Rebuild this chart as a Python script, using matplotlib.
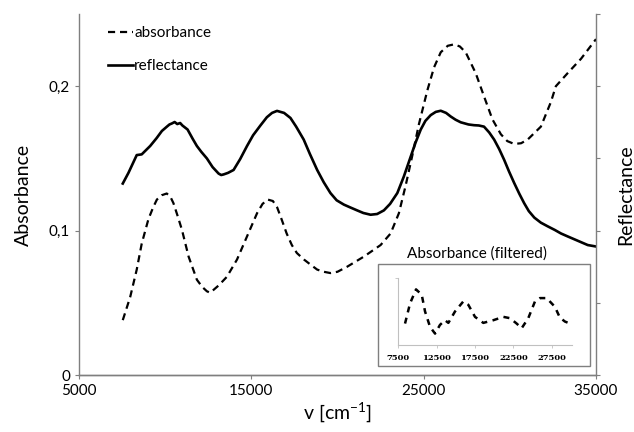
import matplotlib
matplotlib.use('Agg')
import matplotlib.pyplot as plt
from matplotlib.patches import Rectangle
from matplotlib.ticker import FuncFormatter

plt.rcParams['font.family'] = ['Lato', 'DejaVu Sans']

# Absorbance (dashed) - wavenumber in cm-1
abs_x = [7540, 7970, 8350, 8640, 9030, 9300, 9520, 9800, 10090, 10300, 10480, 10700,
         10970, 11360, 11840, 12150, 12420, 12600, 12810, 13100, 13580, 14170, 14750,
         15330, 15650, 15950, 16250, 16500, 16750, 17050, 17350, 17640, 18050, 18430,
         18820, 19200, 19590, 20000, 20560, 21530, 22500, 23080, 23560, 23950, 24340,
         24730, 25210, 25600, 25990, 26400, 26770, 27100, 27440, 28020, 28500, 28990,
         29480, 29850, 30250, 30650, 31030, 31800, 32380, 32670, 33350, 34130, 35000]
abs_y = [0.038, 0.054, 0.073, 0.091, 0.108, 0.116, 0.1215, 0.1245, 0.1257, 0.1235, 0.119, 0.111,
         0.1007, 0.082, 0.066, 0.061, 0.058, 0.057, 0.059, 0.062, 0.068, 0.080, 0.096,
         0.112, 0.1185, 0.1215, 0.1205, 0.116, 0.108, 0.098, 0.090, 0.0845, 0.080, 0.0765,
         0.073, 0.0715, 0.0706, 0.0715, 0.075, 0.082, 0.090, 0.098, 0.112, 0.131, 0.152,
         0.174, 0.197, 0.213, 0.2235, 0.228, 0.229, 0.2275, 0.2234, 0.209, 0.193, 0.177,
         0.1667, 0.162, 0.160, 0.1605, 0.163, 0.172, 0.189, 0.200, 0.209, 0.219, 0.2326]

# Reflectance (solid), noisy parts kept as read
refl_x = [7540, 7870, 8350, 8640, 9130, 9500, 9810, 10100, 10250, 10390, 10550,
          10700, 10870, 11000, 11300, 11600, 11840, 12100, 12420, 12750, 13100, 13250,
          13390, 13650, 13970, 14350, 14750, 15100, 15520, 15900, 16200, 16490, 16900,
          17270, 17600, 18040, 18400, 18820, 19200, 19590, 19950, 20370, 20750, 21140,
          21500, 21920, 22300, 22690, 23050, 23470, 23850, 24240, 24530, 24830, 25100,
          25410, 25700, 25990, 26300, 26570, 26850, 27150, 27600, 27920, 28200, 28500,
          28800, 29090, 29380, 29670, 29950, 30250, 30550, 30830, 31100, 31420, 31800,
          32190, 32600, 32970, 33350, 33740, 34130, 34520, 35000]
refl_y = [0.1326, 0.140, 0.1523, 0.1528, 0.1586, 0.1640, 0.1690, 0.1720, 0.1735, 0.1742, 0.1752,
          0.1738, 0.1745, 0.1728, 0.1700, 0.1635, 0.1586, 0.1545, 0.1500, 0.1440, 0.1395, 0.1385,
          0.1389, 0.1400, 0.1420, 0.1495, 0.1586, 0.1660, 0.1727, 0.1785, 0.1815, 0.1829, 0.1815,
          0.1780, 0.1720, 0.1630, 0.1530, 0.1420, 0.1335, 0.1260, 0.1210, 0.1180, 0.1160, 0.1140,
          0.1122, 0.1110, 0.1115, 0.1140, 0.1185, 0.1260, 0.1375, 0.1510, 0.1610, 0.1700, 0.1760,
          0.1800, 0.1822, 0.1830, 0.1815, 0.1790, 0.1768, 0.1750, 0.1735, 0.1730, 0.1728, 0.1720,
          0.1680, 0.1630, 0.1565, 0.1490, 0.1410, 0.1330, 0.1255, 0.1190, 0.1135, 0.1090, 0.1055,
          0.1030, 0.1005, 0.0980, 0.0960, 0.0940, 0.0920, 0.0900, 0.0890]

# Inset: filtered absorbance (arbitrary units)
filt_x = [8410, 9060, 9840, 10580, 11010, 11660, 12310, 12950, 13600, 14040, 14900,
          15980, 16630, 17500, 18580, 19880, 21180, 22050, 22910, 23560, 24420,
          25290, 25940, 26810, 27880, 28520, 29180, 30050]
filt_y = [0.32, 0.62, 0.83, 0.75, 0.50, 0.27, 0.17, 0.30, 0.37, 0.33, 0.50,
          0.65, 0.60, 0.42, 0.33, 0.37, 0.42, 0.40, 0.32, 0.25, 0.40,
          0.65, 0.70, 0.70, 0.57, 0.41, 0.35, 0.31]

x_ticks = [5000, 15000, 25000, 35000]
y_ticks = [0, 0.1, 0.2]
inset_ticks = [7500, 12500, 17500, 22500, 27500]

grey = '#7f7f7f'

fig = plt.figure(figsize=(6.34, 4.32), dpi=100)
ax = fig.add_axes([0.1246, 0.1319, 0.8155, 0.8357])

l1, = ax.plot(abs_x, abs_y, color='black', lw=1.6, dashes=(3.2, 2.2), label='absorbance')
ax2 = ax.twinx()
l2, = ax2.plot(refl_x, refl_y, color='black', lw=1.9, label='reflectance')

ax.set_xlim(5000, 35000)
ax.set_ylim(0, 0.25)
ax2.set_ylim(0, 0.25)
ax.set_xticks(x_ticks)
ax.set_yticks(y_ticks)
ax.yaxis.set_major_formatter(FuncFormatter(lambda v, p: '0' if v == 0 else f'{v:.1f}'.replace('.', ',')))
ax2.set_yticks([0, 0.05, 0.1, 0.15, 0.2, 0.25])
ax2.set_yticklabels([])

for a in (ax, ax2):
    a.spines['top'].set_visible(False)
    for s in a.spines.values():
        s.set_color(grey)
        s.set_linewidth(1)
    a.tick_params(color=grey, length=3, width=0.8, labelsize=11, direction='out')
ax2.spines['left'].set_visible(False)
ax.spines['right'].set_visible(False)

ax.set_ylabel('Absorbance', fontsize=14, labelpad=12)
ax2.set_ylabel('Reflectance', fontsize=14, labelpad=9)
ax.set_xlabel('v [cm$^{\\mathregular{-1}}$]', fontsize=14, labelpad=2)

leg = ax.legend([l1, l2], ['absorbance', 'reflectance'], loc='upper left',
                bbox_to_anchor=(0.03, 1.005), frameon=False, fontsize=11,
                handlelength=1.6, handletextpad=0.1, labelspacing=1.25)

# inset
fig.patches.append(Rectangle((0.5962, 0.1528), 0.3344, 0.2361, transform=fig.transFigure,
                             facecolor='white', edgecolor=grey, lw=1, zorder=3))
fig.text(0.752, 1 - 254 / 432, 'Absorbance (filtered)', ha='center', va='center', fontsize=11)
axi = fig.add_axes([0.6278, 0.2014, 0.2744, 0.1551])
axi.set_zorder(5)
axi.patch.set_alpha(0)
axi.plot(filt_x, filt_y, color='black', lw=1.8, dashes=(2.4, 2.2))
axi.set_xlim(7500, 30100)
axi.set_ylim(0, 1)
axi.set_xticks(inset_ticks)
axi.set_yticks([1])
axi.set_yticklabels([])
for side in ('top', 'right'):
    axi.spines[side].set_visible(False)
for side in ('left', 'bottom'):
    axi.spines[side].set_color('#c0c0c0')
    axi.spines[side].set_linewidth(0.8)
axi.tick_params(color='#c0c0c0', length=2.5, width=0.6, labelsize=6, pad=4)
for t in axi.get_xticklabels():
    t.set_fontweight('bold')
    t.set_family('DejaVu Serif')

fig.savefig('out.png', dpi=100)
